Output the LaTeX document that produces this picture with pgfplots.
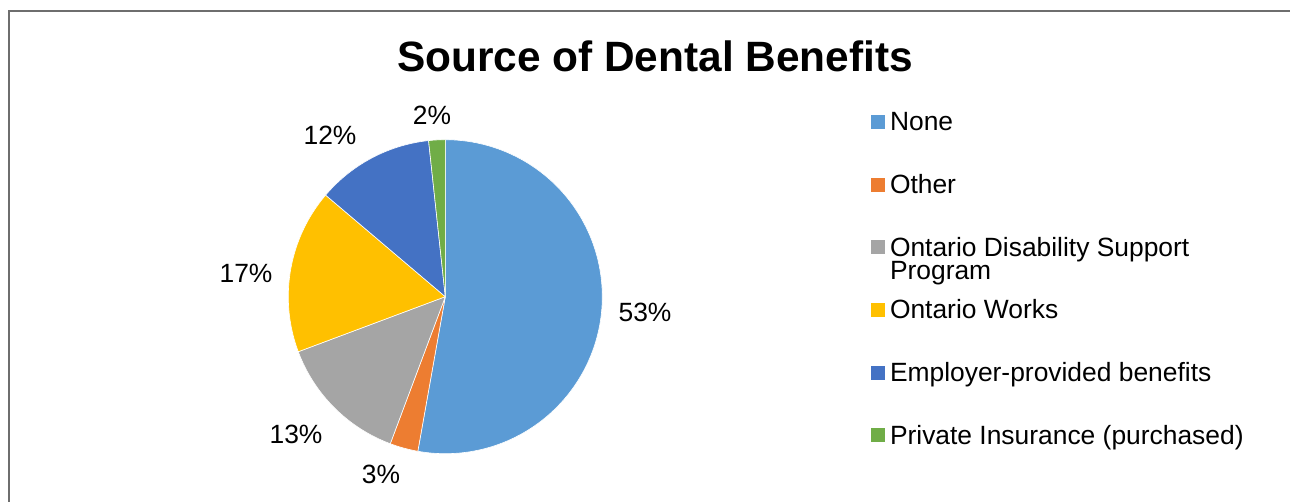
\documentclass[border=0pt]{standalone}
\usepackage{pgfplots}
\pgfplotsset{compat=1.18}
\usepackage{fontspec}
\setmainfont{Liberation Sans}
\definecolor{cNone}{HTML}{5B9BD5}
\definecolor{cOther}{HTML}{ED7D31}
\definecolor{cODSP}{HTML}{A5A5A5}
\definecolor{cOW}{HTML}{FFC000}
\definecolor{cEmp}{HTML}{4472C4}
\definecolor{cPriv}{HTML}{70AD47}
\definecolor{frame}{HTML}{6E6E6E}
% slice shares (percent)
\def\vNone{52.8}
\def\vOther{2.9}
\def\vODSP{13.6}
\def\vOW{16.9}
\def\vEmp{12.1}
\def\vPriv{1.7}
\pgfmathsetmacro\aA{90}
\pgfmathsetmacro\aB{\aA-3.6*\vNone}
\pgfmathsetmacro\aC{\aB-3.6*\vOther}
\pgfmathsetmacro\aD{\aC-3.6*\vODSP}
\pgfmathsetmacro\aE{\aD-3.6*\vOW}
\pgfmathsetmacro\aF{\aE-3.6*\vEmp}
\pgfmathsetmacro\aG{\aF-3.6*\vPriv}
\def\cx{445.3}
\def\cy{205.3}
\def\R{157}
\newcommand\lblfont{\fontsize{26.4}{30}\selectfont}
\begin{document}
\begin{tikzpicture}
\begin{axis}[
  scale only axis, width=1290pt, height=502pt,
  xmin=0, xmax=1290, ymin=0, ymax=502,
  hide axis, clip=false,
  legend image code/.code={\fill[#1,draw=none] (0pt,1.7pt) rectangle (14pt,15.7pt);},
  legend style={at={(axis cs:871,391.3)}, anchor=north west, draw=none, fill=none,
    inner sep=0pt, outer sep=0pt, row sep=36.7pt, column sep=5pt,
    font=\lblfont, nodes={inner sep=0pt, text height=20pt, text depth=6pt},
    cells={anchor=base west}},
]
\addplot[fill=cNone, draw=white, line width=0.6pt, domain=\aB:\aA, samples=120, variable=\t]
  ({\cx+\R*cos(\t)},{\cy+\R*sin(\t)}) -- (\cx,\cy) -- cycle;
\addlegendentry{None}
\addplot[fill=cOther, draw=white, line width=0.6pt, domain=\aC:\aB, samples=10, variable=\t]
  ({\cx+\R*cos(\t)},{\cy+\R*sin(\t)}) -- (\cx,\cy) -- cycle;
\addlegendentry{Other}
\addplot[fill=cODSP, draw=white, line width=0.6pt, domain=\aD:\aC, samples=40, variable=\t]
  ({\cx+\R*cos(\t)},{\cy+\R*sin(\t)}) -- (\cx,\cy) -- cycle;
\addlegendentry{\vtop{\baselineskip=23.3pt\lineskiplimit=-100pt\hbox{Ontario Disability Support}\hbox{Program}}}
\addplot[fill=cOW, draw=white, line width=0.6pt, domain=\aE:\aD, samples=50, variable=\t]
  ({\cx+\R*cos(\t)},{\cy+\R*sin(\t)}) -- (\cx,\cy) -- cycle;
\addlegendentry{Ontario Works}
\addplot[fill=cEmp, draw=white, line width=0.6pt, domain=\aF:\aE, samples=40, variable=\t]
  ({\cx+\R*cos(\t)},{\cy+\R*sin(\t)}) -- (\cx,\cy) -- cycle;
\addlegendentry{Employer-provided benefits}
\addplot[fill=cPriv, draw=white, line width=0.6pt, domain=\aG:\aF, samples=8, variable=\t]
  ({\cx+\R*cos(\t)},{\cy+\R*sin(\t)}) -- (\cx,\cy) -- cycle;
\addlegendentry{Private Insurance (purchased)}
% data labels
\node[anchor=base, font=\lblfont] at (axis cs:645,180.3) {53\%};
\node[anchor=base, font=\lblfont] at (axis cs:381,18.7) {3\%};
\node[anchor=base, font=\lblfont] at (axis cs:296,58) {13\%};
\node[anchor=base, font=\lblfont] at (axis cs:246,219) {17\%};
\node[anchor=base, font=\lblfont] at (axis cs:330,357) {12\%};
\node[anchor=base, font=\lblfont] at (axis cs:432,377) {2\%};
% title
\node[anchor=base, font=\fontsize{42.4}{50}\selectfont\bfseries] at (axis cs:655,430.3) {Source of Dental Benefits};
% chart frame (only top and left edges are visible)
\draw[frame, line width=2pt] (axis cs:9,0) -- (axis cs:9,491) -- (axis cs:1290,491);
\end{axis}
\pgfresetboundingbox
\useasboundingbox (current axis.south west) rectangle (current axis.north east);
\end{tikzpicture}
\end{document}
